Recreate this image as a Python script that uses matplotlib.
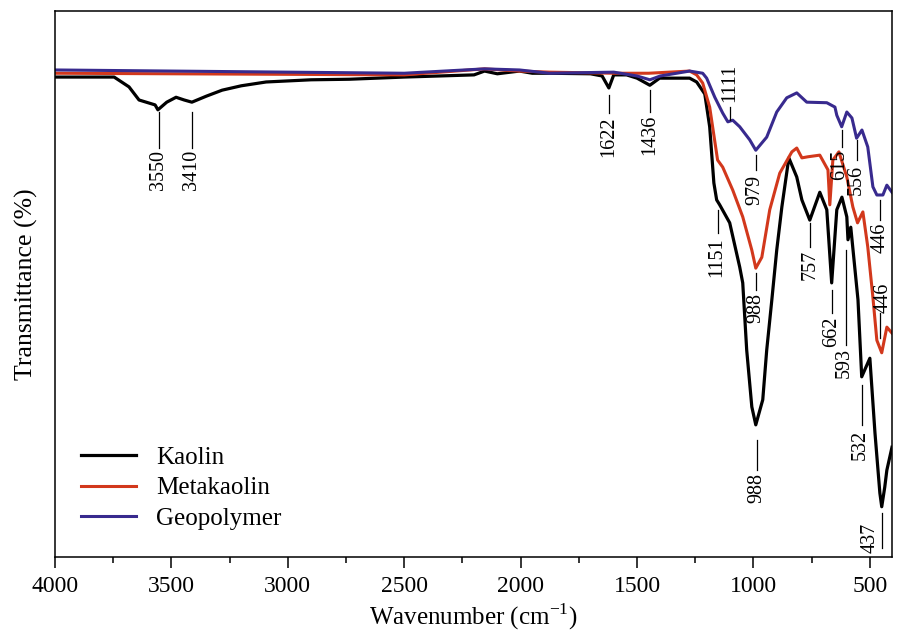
import matplotlib
matplotlib.use("Agg")
import matplotlib.pyplot as plt
from matplotlib.ticker import MultipleLocator

plt.rcParams["font.family"] = ["Liberation Serif", "DejaVu Serif"]
plt.rcParams["mathtext.fontset"] = "custom"
plt.rcParams["mathtext.rm"] = "Liberation Serif"

# ---- spectra (wavenumber cm-1, transmittance %) ----
kaolin_wn = [4000, 3850, 3746, 3682, 3639, 3570, 3558, 3520, 3480, 3445,
             3412, 3350, 3282, 3200, 3093, 2900, 2736, 2500, 2349, 2200,
             2155, 2100, 2005, 1950, 1876, 1700, 1650, 1621, 1600, 1545,
             1500, 1445, 1403, 1274, 1244, 1209, 1188, 1170, 1158, 1145,
             1102, 1059, 1046, 1029, 1007, 990, 960, 943, 921, 900,
             878, 848, 814, 792, 758, 715, 685, 664, 642, 620,
             599, 594, 582, 551, 535, 500, 478, 457, 449, 436, 427, 405]
kaolin_t = [87.9, 87.9, 87.9, 86.1, 83.7, 82.8, 81.9, 83.3, 84.2, 83.7,
            83.3, 84.4, 85.5, 86.3, 87.0, 87.4, 87.5, 87.9, 88.1, 88.3,
            89.0, 88.5, 89.0, 88.6, 88.6, 88.5, 88.1, 85.9, 88.3, 88.3,
            87.7, 86.4, 87.7, 87.7, 87.0, 84.8, 78.8, 68.5, 65.4, 64.5,
            61.2, 53.1, 50.2, 37.9, 27.5, 24.2, 28.8, 37.9, 47.1, 56.2,
            64.1, 73.1, 69.6, 65.4, 61.7, 66.8, 63.6, 50.2, 63.6, 65.9,
            62.3, 58.1, 60.4, 47.1, 33.0, 36.4, 22.7, 11.7, 9.2, 12.8, 15.9, 20.1]

meta_wn = [4000, 3000, 2500, 2155, 2005, 1876, 1600, 1450, 1274, 1244,
           1218, 1188, 1154, 1132, 1089, 1046, 1007, 990, 964, 930,
           887, 835, 814, 792, 766, 715, 680, 672, 659, 633,
           599, 573, 553, 530, 509, 487, 470, 449, 427, 405]
meta_t = [88.6, 88.4, 88.3, 89.4, 89.0, 88.8, 88.6, 88.6, 89.0, 88.3,
          86.8, 82.4, 72.7, 71.4, 67.2, 62.3, 56.2, 52.9, 54.9, 63.6,
          70.3, 74.2, 74.9, 73.1, 73.3, 73.6, 70.9, 64.5, 72.7, 74.2,
          69.6, 64.1, 61.2, 63.2, 56.8, 47.6, 39.7, 37.4, 42.1, 41.0]

geo_wn = [4000, 3000, 2500, 2155, 2005, 1876, 1600, 1500, 1445, 1400,
          1274, 1218, 1201, 1166, 1132, 1110, 1089, 1059, 1016, 990,
          943, 900, 857, 814, 771, 685, 650, 642, 621, 599,
          577, 557, 534, 509, 487, 470, 444, 427, 405]
geo_t = [89.2, 88.8, 88.6, 89.4, 89.2, 88.6, 88.8, 88.1, 87.4, 88.1,
         89.0, 88.6, 87.7, 84.2, 81.3, 79.7, 80.0, 78.8, 76.4, 74.5,
         76.9, 81.5, 84.1, 85.0, 83.3, 83.2, 82.4, 80.9, 78.8, 81.5,
         80.4, 76.7, 78.2, 75.1, 67.8, 66.3, 66.3, 68.1, 66.8]

# ---- peak labels: text, x of line, line top, line bottom, text x, text y, text anchor ----
peak_text = ["3550", "3410", "1622", "1436", "1111", "979", "1151", "988",
             "988", "757", "662", "593", "532", "437", "615", "556",
             "446", "446"]
peak_x = [3555, 3412, 1621, 1445, 1102, 990, 1153, 990,
          986, 758, 664, 604, 535, 449, 621, 557,
          458, 455]
line_top = [81.5, 81.5, 84.6, 85.5, 82.4, 73.6, 63.6, 52.0,
            21.4, 61.2, 48.9, 56.2, 31.5, 8.1, 78.2, 76.4,
            65.4, 44.7]
line_bot = [74.9, 74.9, 81.3, 81.5, 80.0, 70.9, 59.3, 48.9,
            15.9, 56.8, 44.7, 38.8, 24.2, 1.6, 75.1, 72.7,
            61.7, 40.1]
text_x = [3555, 3412, 1621, 1445, 1102, 995, 1158, 990,
          986, 758, 664, 612, 543, 500, 630, 557,
          458, 445]
text_y = [74.5, 74.5, 80.6, 81.0, 83.3, 70.0, 58.6, 48.4,
          15.4, 56.2, 44.0, 38.3, 23.3, 0.7, 74.5, 71.8,
          61.2, 44.7]
text_va = ["top", "top", "top", "top", "bottom", "top", "top", "top",
           "top", "top", "top", "top", "top", "bottom", "top", "top",
           "top", "bottom"]

fig = plt.figure(figsize=(8.97, 6.32), dpi=100)
ax = fig.add_axes([0.0613, 0.1187, 0.9331, 0.8639])

ax.plot(kaolin_wn, kaolin_t, color="black", lw=2.3, label="Kaolin")
ax.plot(meta_wn, meta_t, color="#d2381c", lw=2.2, label="Metakaolin")
ax.plot(geo_wn, geo_t, color="#382a8e", lw=2.2, label="Geopolymer")

for txt, px, y0, y1, tx, ty, va in zip(peak_text, peak_x, line_top, line_bot,
                                       text_x, text_y, text_va):
    ax.plot([px, px], [y0, y1], color="black", lw=0.9)
    ax.text(tx, ty, txt, rotation=90, ha="center", va=va, fontsize=14.5)

ax.set_xlim(4000, 405)
ax.set_ylim(0, 100)
ax.xaxis.set_major_locator(MultipleLocator(500))
ax.xaxis.set_minor_locator(MultipleLocator(250))
ax.tick_params(axis="x", which="major", direction="out", length=8, width=1.1,
               labelsize=17, pad=6)
ax.tick_params(axis="x", which="minor", direction="out", length=4.5, width=1.1)
ax.set_yticks([])
for s in ax.spines.values():
    s.set_linewidth(1.1)

ax.set_xlabel("Wavenumber (cm$^{-1}$)", fontsize=18, labelpad=3)
ax.set_ylabel("Transmittance (%)", fontsize=18.5, labelpad=12)

ax.legend(loc="lower left", bbox_to_anchor=(0.004, 0.008), frameon=False,
          fontsize=18, handlelength=2.2, handletextpad=0.8, labelspacing=0.33)

fig.savefig("out.png", dpi=100)
